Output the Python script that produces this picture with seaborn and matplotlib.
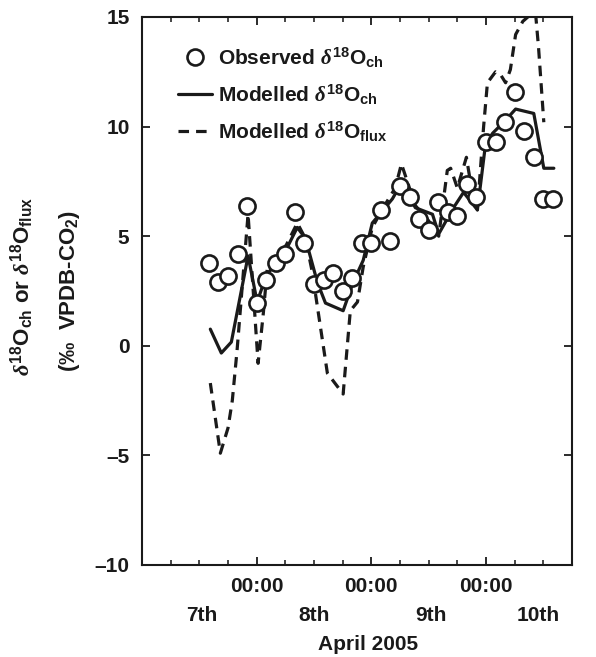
import numpy as np
import pandas as pd
import matplotlib
matplotlib.use('Agg')
import matplotlib.pyplot as plt
import seaborn as sns
from matplotlib.lines import Line2D
import matplotlib.transforms as mtrans

# ---------------- data (hours after 7 April 2005 00:00) ----------------
obs_hours = [14, 16, 18, 20, 22, 24, 26, 28, 30, 32, 34, 36, 38, 40, 42, 44, 46, 48, 50,
             52, 54, 56, 58, 60, 62, 64, 66, 68, 70, 72, 74, 76, 78, 80, 82, 84, 86]
obs_d18O = [3.8, 2.9, 3.2, 4.2, 6.4, 1.95, 3.0, 3.8, 4.2, 6.1, 4.7, 2.8, 3.0, 3.3, 2.5, 3.1,
            4.7, 4.7, 6.2, 4.8, 7.3, 6.8, 5.8, 5.3, 6.55, 6.1, 5.9, 7.4, 6.8, 9.3, 9.3, 10.2,
            11.6, 9.8, 8.6, 6.7, 6.7]

mod_ch_hours = [14.3, 16.6, 18.7, 22.2, 24.1, 26.0, 28.1, 30.2, 32.5, 34.2, 36.7, 38.4,
                42.1, 44.2, 46.3, 48.2, 50.5, 52.4, 54.5, 57.2, 60.8, 62.1, 65.2, 67.3,
                70.2, 71.9, 73.4, 75.7, 78.2, 82.0, 84.1, 86.2]
mod_ch_d18O = [0.76, -0.33, 0.17, 4.1, 2.0, 3.2, 3.8, 4.4, 5.4, 4.9, 2.9, 1.95,
               1.6, 2.9, 3.9, 5.6, 6.2, 6.7, 7.5, 6.3, 6.0, 5.1, 6.3, 7.0,
               6.2, 9.2, 9.7, 10.2, 10.8, 10.6, 8.1, 8.1]

mod_flux_hours = [14.3, 16.4, 18.0, 18.9, 19.9, 22.2, 24.3, 25.4, 26.2, 28.1, 30.2, 32.5,
                  34.2, 35.6, 38.8, 42.1, 43.6, 45.1, 46.3, 48.2, 50.5, 53.0, 54.3, 57.2,
                  60.0, 62.1, 63.9, 64.6, 66.0, 67.9, 68.8, 70.2, 71.5, 72.3, 74.0, 75.1,
                  76.1, 77.1, 78.2, 79.7, 81.8, 82.4, 83.0, 84.1]
mod_flux_d18O = [-1.7, -4.9, -3.75, -2.5, -0.2, 6.0, -0.8, 1.5, 3.5, 4.0, 4.6, 5.6,
                 4.9, 3.4, -1.25, -2.2, 1.6, 2.0, 3.6, 5.4, 6.3, 7.2, 8.3, 6.4,
                 5.7, 5.0, 8.0, 8.1, 7.2, 8.6, 7.4, 6.2, 10.0, 12.0, 12.5, 12.35,
                 12.0, 12.6, 14.2, 14.8, 15.2, 15.1, 13.6, 10.2]

y_ticks = [-10, -5, 0, 5, 10, 15]
x_major = [24, 48, 72]
x_major_labels = ["00:00", "00:00", "00:00"]
x_minor = [6, 12, 18, 30, 36, 42, 54, 60, 66, 78, 84, 90]
day_labels = ["7th", "8th", "9th", "10th"]
day_pos = [12.5, 36.0, 60.5, 83.0]

# ---------------- style ----------------
sns.set_theme(style="ticks")
plt.rcParams['font.family'] = ['Liberation Sans', 'DejaVu Sans']
plt.rcParams['font.weight'] = 'bold'
plt.rcParams['mathtext.fontset'] = 'custom'
plt.rcParams['mathtext.rm'] = 'Liberation Sans:bold'
plt.rcParams['mathtext.bf'] = 'Liberation Sans:bold'
plt.rcParams['mathtext.it'] = 'Liberation Serif:italic'

INK = "#1a1a1a"
fig = plt.figure(figsize=(5.96, 6.57), dpi=100)
ax = fig.add_axes([142/596, 92/657, 430/596, 548/657])

df_obs = pd.DataFrame({"h": obs_hours, "v": obs_d18O})
df_ch = pd.DataFrame({"h": mod_ch_hours, "v": mod_ch_d18O})
df_fx = pd.DataFrame({"h": mod_flux_hours, "v": mod_flux_d18O})

dash = (3.3, 2.2)
sns.lineplot(data=df_fx, x="h", y="v", ax=ax, color=INK, lw=2.3, sort=False,
             estimator=None, linestyle=(0, dash), zorder=2)
sns.lineplot(data=df_ch, x="h", y="v", ax=ax, color=INK, lw=2.3, sort=False,
             estimator=None, zorder=3)
sns.scatterplot(data=df_obs, x="h", y="v", ax=ax, s=135, marker="o", facecolor="white",
                edgecolor=INK, linewidth=1.9, zorder=4)

ax.set_xlim(0, 90)
ax.set_ylim(-10, 15)
ax.set_xlabel("")
ax.set_ylabel("")

ax.set_yticks(y_ticks)
ax.set_yticklabels([f"{t}".replace("-", "\u2013") for t in y_ticks])
ax.set_xticks(x_major)
ax.set_xticklabels(x_major_labels)
ax.set_xticks(x_minor, minor=True)

for s in ax.spines.values():
    s.set_visible(True)
    s.set_linewidth(1.5)
    s.set_color(INK)

ax.tick_params(axis='both', which='major', direction='in', length=6, width=1.3,
               top=True, right=True, labelsize=15, colors=INK)
ax.tick_params(axis='y', which='major', pad=9)
ax.tick_params(axis='x', which='major', pad=9)
ax.tick_params(axis='x', which='minor', direction='in', length=3.5, width=1.2, top=True)
for lab in ax.get_xticklabels() + ax.get_yticklabels():
    lab.set_fontweight('bold')

# day labels under the axis
trans = mtrans.blended_transform_factory(ax.transData, ax.transAxes)
for d, p in zip(day_labels, day_pos):
    ax.text(p, -0.092, d, transform=trans, ha="center", va="center",
            fontsize=15, fontweight="bold", color=INK)
ax.text((368 - 142) / 430, (565 - 644) / 548, "April 2005", transform=ax.transAxes,
        ha="center", va="center", fontsize=15, fontweight="bold", color=INK)

# y label (two lines)
fig.text(22/596, 1 - 286/657, r"$\delta^{18}\mathrm{O}_{\mathrm{ch}}$ or $\delta^{18}\mathrm{O}_{\mathrm{flux}}$",
         rotation=90, ha="center", va="center", fontsize=16, fontweight="bold", color=INK)
fig.text(70/596, 1 - 291/657, "(\u2030  VPDB-CO$_{2}$)",
         rotation=90, ha="center", va="center", fontsize=16, fontweight="bold", color=INK)

# legend
handles = [
    Line2D([], [], marker="o", ls="none", markersize=11.5, markerfacecolor="white",
           markeredgecolor=INK, markeredgewidth=1.9),
    Line2D([], [], color=INK, lw=2.3),
    Line2D([], [], color=INK, lw=2.3, linestyle=(0, dash)),
]
labels = [r"Observed $\delta^{18}\mathrm{O}_{\mathrm{ch}}$",
          r"Modelled $\delta^{18}\mathrm{O}_{\mathrm{ch}}$",
          r"Modelled $\delta^{18}\mathrm{O}_{\mathrm{flux}}$"]
leg = ax.legend(handles, labels, loc="upper left", bbox_to_anchor=(0.084, 0.948),
                frameon=False, fontsize=15, handlelength=1.65, handletextpad=0.25,
                labelspacing=0.62, borderaxespad=0, borderpad=0)
for t in leg.get_texts():
    t.set_fontweight("bold")
    t.set_color(INK)

fig.savefig("out.png", dpi=100)
